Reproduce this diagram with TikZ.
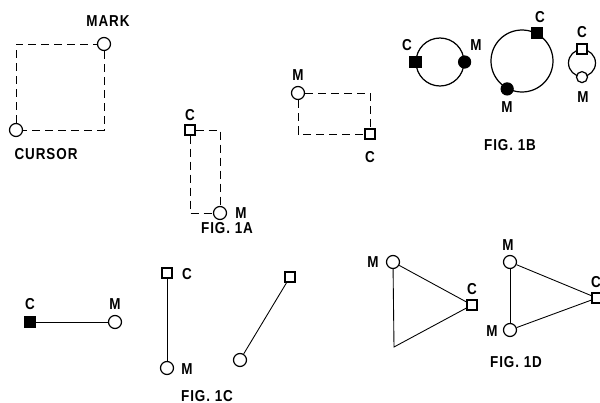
\documentclass[tikz,border=0pt]{standalone}
\usepackage{fontspec}
\setmainfont{Liberation Sans}[FakeStretch=0.85]
\begin{document}
\begin{tikzpicture}[x=0.02cm,y=-0.02cm,
  lbl/.style={font=\fontsize{9}{10}\selectfont\bfseries\addfontfeature{LetterSpace=6}, inner sep=0pt},
  ocirc/.style={circle, draw, line width=0.7pt, minimum size=0.26cm, inner sep=0pt, fill=white},
  fcirc/.style={circle, draw, fill=black, line width=0.7pt, minimum size=0.24cm, inner sep=0pt},
  osq/.style={rectangle, draw, line width=0.7pt, minimum size=0.2cm, inner sep=0pt, fill=white},
  fsq/.style={rectangle, draw, fill=black, line width=0.7pt, minimum size=0.22cm, inner sep=0pt},
  ring/.style={circle, draw, line width=0.7pt, inner sep=0pt},
  dsh/.style={line width=0.55pt, dash pattern=on 0.16cm off 0.1cm},
  sld/.style={line width=0.5pt}]
\useasboundingbox (0,0) rectangle (600,403);
% top-left square
\node[ocirc] (mark) at (104,44) {};
\node[ocirc] (cursor) at (16,130) {};
\draw[dsh] (cursor.north) |- (mark.west);
\draw[dsh] (mark.south) |- (cursor.east);
\node[lbl] (tmark) at (108,21) {MARK};
\node[lbl] (tcursor) at (46,154) {CURSOR};
% Fig 1A (first)
\node[osq] (sqA) at (190,130) {};
\node[ocirc] (cirA) at (220,213) {};
\draw[dsh] (sqA.east) -| (cirA.north);
\draw[dsh] (sqA.south) |- (cirA.west);
\node[lbl] (tcA) at (190,115) {C};
\node[lbl] (tmA) at (241,213) {M};
\node[lbl] (fig1a) at (227,228) {FIG. 1A};
% Fig 1A (second)
\node[ocirc] (cirB) at (298,93) {};
\node[osq] (sqB) at (370,134) {};
\draw[dsh] (cirB.east) -| (sqB.north);
\draw[dsh] (cirB.south) |- (sqB.west);
\node[lbl] (tmB) at (298,75) {M};
\node[lbl] (tcB) at (370,157) {C};
% Fig 1B
\node[ring, minimum size=0.96cm] (r1) at (440,62) {};
\node[fsq] (r1c) at (r1.180) {};
\node[fcirc] (r1m) at (r1.0) {};
\node[lbl] (tr1c) at (407,45) {C};
\node[lbl] (tr1m) at (476,45) {M};
\node[ring, minimum size=1.24cm] (r2) at (522,61) {};
\node[fsq] (r2c) at (r2.62) {};
\node[fcirc] (r2m) at (r2.242) {};
\node[lbl] (tr2c) at (540,17) {C};
\node[lbl] (tr2m) at (507,107) {M};
\node[ring, minimum size=0.54cm] (r3) at (582,63) {};
\node[osq] (r3c) at (r3.90) {};
\node[ocirc, minimum size=0.22cm] (r3m) at (r3.270) {};
\node[lbl] (tr3c) at (582,32) {C};
\node[lbl] (tr3m) at (583,97) {M};
\node[lbl] (fig1b) at (510,145) {FIG. 1B};
% Fig 1C
\node[fsq] (c1s) at (30,322) {};
\node[ocirc] (c1m) at (115,322) {};
\draw[sld] (c1s) -- (c1m);
\node[lbl] (tc1s) at (30,304) {C};
\node[lbl] (tc1m) at (115,304) {M};
\node[osq] (c2s) at (167,273) {};
\node[ocirc] (c2m) at (167,368) {};
\draw[sld] (c2s) -- (c2m);
\node[lbl] (tc2s) at (187,274) {C};
\node[lbl] (tc2m) at (187,369) {M};
\node[osq] (c3s) at (290,277) {};
\node[ocirc] (c3m) at (240,360) {};
\draw[sld] (c3s) -- (c3m);
\node[lbl] (fig1c) at (207,396) {FIG. 1C};
% Fig 1D
\node[ocirc] (d1m) at (393,262) {};
\node[osq] (d1c) at (472,305) {};
\coordinate (d1v) at (394,347);
\draw[sld] (d1m) -- (d1c);
\draw[sld] (d1m) -- (d1v) -- (d1c);
\node[lbl] (td1m) at (373,262) {M};
\node[lbl] (td1c) at (472,289) {C};
\node[ocirc] (d2m) at (510,262) {};
\node[ocirc] (d3m) at (510,330) {};
\node[osq] (d2c) at (597,298) {};
\draw[sld] (d2m) -- (d3m);
\draw[sld] (d2m) -- (d2c);
\draw[sld] (d3m) -- (d2c);
\node[lbl] (td2m) at (508,245) {M};
\node[lbl] (td3m) at (492,331) {M};
\node[lbl] (td2c) at (596,282) {C};
\node[lbl] (fig1d) at (516,362) {FIG. 1D};
\end{tikzpicture}
\end{document}
